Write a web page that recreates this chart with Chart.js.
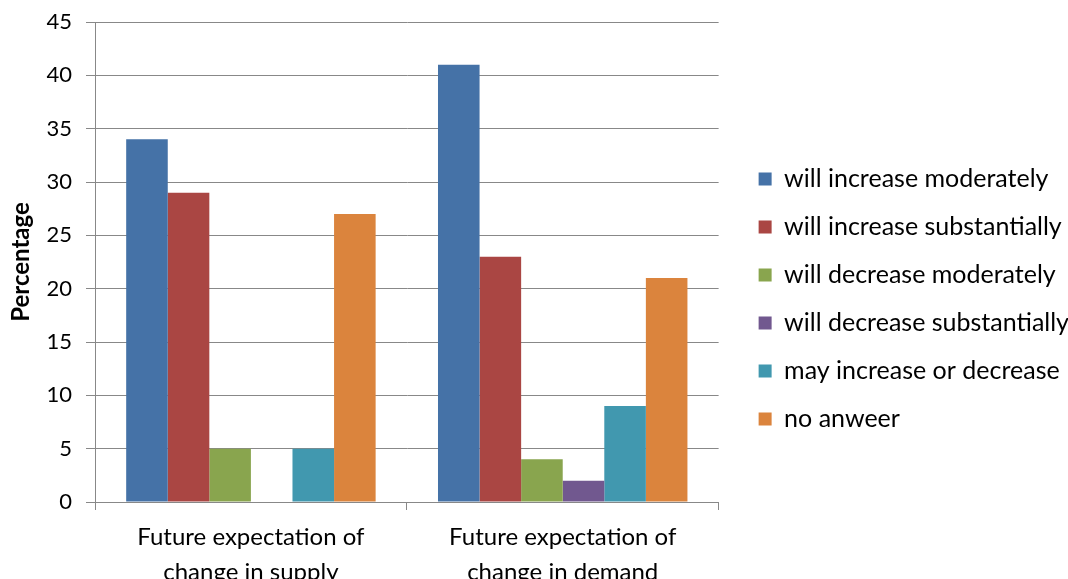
<!DOCTYPE html>
<html>
<head>
<meta charset="utf-8">
<script src="https://cdn.jsdelivr.net/npm/chart.js@4/dist/chart.umd.min.js"></script>
<style>
    body { margin: 0; background: #fff; overflow: hidden; font-family: Lato, sans-serif; }
    #wrap { width: 1068px; height: 600px; position: relative; }
</style>
</head>
<body>
<div id="wrap"><canvas id="chart"></canvas></div>
<script>
var categories = [
    ["Future expectation of", "change in supply"],
    ["Future expectation of", "change in demand"]
];
var seriesNames = [
    "will increase moderately",
    "will increase substantially",
    "will decrease moderately",
    "will decrease substantially",
    "may increase or decrease",
    "no anweer"
];
var seriesColors = ["#4572A7", "#AA4643", "#89A54E", "#71588F", "#4198AF", "#DB843D"];
var increaseModerately = [34, 41];
var increaseSubstantially = [29, 23];
var decreaseModerately = [5, 4];
var decreaseSubstantially = [0, 2];
var mayIncreaseOrDecrease = [5, 9];
var noAnswer = [27, 21];
var seriesValues = [increaseModerately, increaseSubstantially, decreaseModerately,
    decreaseSubstantially, mayIncreaseOrDecrease, noAnswer];
var yTicks = [0, 5, 10, 15, 20, 25, 30, 35, 40, 45];

var FONT = "Lato, Carlito, Calibri, sans-serif";
var GRID = "#888888";

Chart.defaults.font.family = FONT;
Chart.defaults.color = "#000";

// move the legend a bit right of the plot, as in the original
var legendShift = {
    id: "legendShift",
    afterLayout: function (chart) {
        var lg = chart.legend;
        lg.left += 17;
        lg.right += 17;
        lg.top -= 12;
        lg.bottom -= 12;
    }
};

function makeChart() {
    var datasets = seriesNames.map(function (name, i) {
        return {
            label: name,
            data: seriesValues[i],
            backgroundColor: seriesColors[i],
            borderWidth: 0,
            categoryPercentage: 0.8,
            barPercentage: 1.0
        };
    });

    new Chart(document.getElementById("chart").getContext("2d"), {
        type: "bar",
        data: { labels: categories, datasets: datasets },
        plugins: [legendShift],
        options: {
            responsive: true,
            maintainAspectRatio: false,
            animation: false,
            layout: { padding: { top: 22, left: 0, right: 6, bottom: 0 } },
            plugins: {
                tooltip: { enabled: false },
                legend: {
                    position: "right",
                    maxWidth: 350,
                    labels: {
                        boxWidth: 13,
                        boxHeight: 13,
                        padding: 23,
                        font: { size: 25 },
                        color: "#000"
                    }
                }
            },
            scales: {
                x: {
                    grid: { drawOnChartArea: false, drawTicks: true, tickLength: 8, color: GRID, offset: true },
                    border: { color: GRID, width: 1 },
                    ticks: { font: { size: 24, lineHeight: 1.45 }, padding: 10, maxRotation: 0 },
                    afterFit: function (scale) { scale.height = 98; }
                },
                y: {
                    min: 0,
                    max: 45,
                    afterBuildTicks: function (scale) {
                        scale.ticks = yTicks.map(function (v) { return { value: v }; });
                    },
                    grid: { color: GRID, tickLength: 9, lineWidth: 1 },
                    border: { color: GRID, width: 1 },
                    ticks: { font: { size: 22 }, padding: 14 },
                    title: {
                        display: true,
                        text: "Percentage",
                        font: { size: 24, weight: "bold" },
                        padding: { top: 7, bottom: 0 }
                    },
                    afterFit: function (scale) {
                        scale.width = 95;
                        scale.paddingTop = 0;
                        scale.paddingBottom = 0;
                    }
                }
            }
        }
    });
}

if (document.fonts && document.fonts.load) {
    Promise.all([
        document.fonts.load("25px Lato"),
        document.fonts.load("bold 24px Lato")
    ]).then(makeChart, makeChart);
} else {
    makeChart();
}
</script>
</body>
</html>
